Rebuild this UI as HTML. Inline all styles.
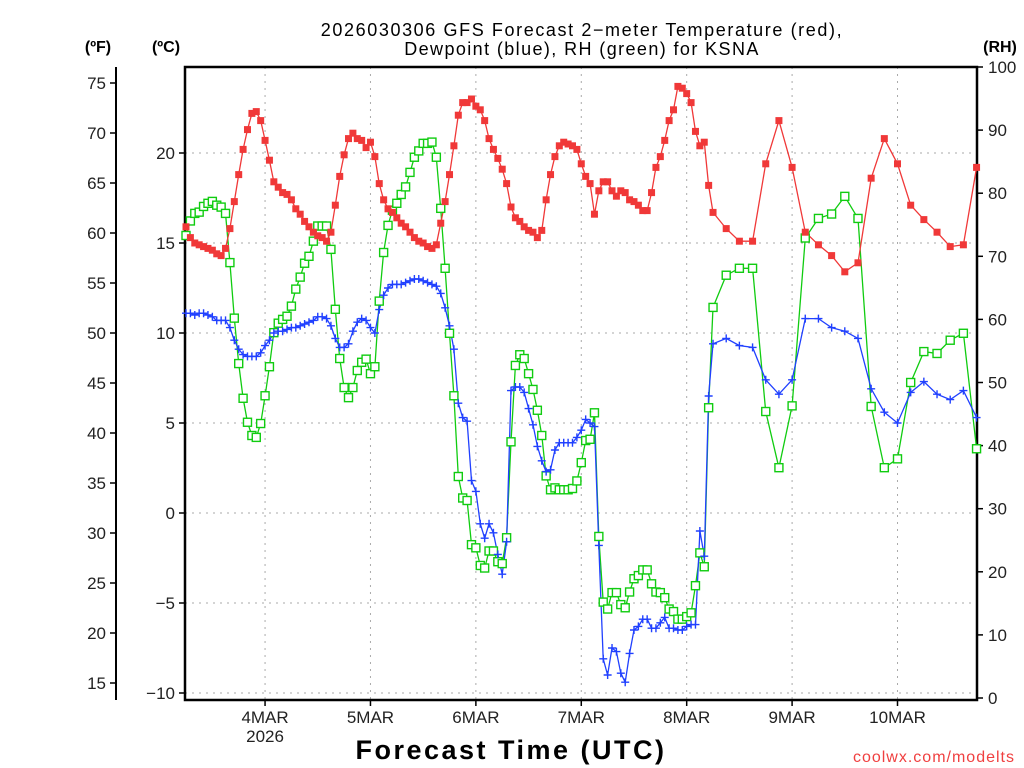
<!DOCTYPE html>
<html><head><meta charset="utf-8">
<style>
html,body{margin:0;padding:0;background:#fff;}
svg{display:block;font-family:"Liberation Sans","DejaVu Sans",sans-serif;}
</style></head>
<body>
<svg id="chart" width="1024" height="768" viewBox="0 0 1024 768" xmlns="http://www.w3.org/2000/svg">
<rect x="0" y="0" width="1024" height="768" fill="#fff"/>
<text x="582" y="36" font-size="18" text-anchor="middle" fill="#000" letter-spacing="1.6">2026030306 GFS Forecast 2−meter Temperature (red),</text>
<text x="582" y="55" font-size="18" text-anchor="middle" fill="#000" letter-spacing="1.4">Dewpoint (blue), RH (green) for KSNA</text>
<text x="98" y="52" font-size="16" font-weight="bold" text-anchor="middle">(ºF)</text>
<text x="166" y="52" font-size="16" font-weight="bold" text-anchor="middle">(ºC)</text>
<text x="1000" y="52" font-size="16" font-weight="bold" text-anchor="middle">(RH)</text>
<text x="511" y="759" font-size="27" font-weight="bold" text-anchor="middle" letter-spacing="2.5">Forecast Time (UTC)</text>
<text x="1015" y="762" font-size="16" text-anchor="end" fill="#f04040" letter-spacing="1">coolwx.com/modelts</text>
<g id="grid"></g><g id="axes"></g><g id="series"></g>
</svg>
<script>
const tempC = [15.9,15.3,15.0,14.9,14.8,14.7,14.6,14.4,14.3,14.7,15.8,17.3,18.8,20.2,21.3,22.2,22.3,21.8,20.7,19.6,18.4,18.1,17.8,17.7,17.4,16.9,16.6,16.2,15.9,15.6,15.4,15.3,15.1,15.6,17.1,18.7,19.9,20.8,21.1,20.8,20.7,20.3,20.6,19.8,18.3,17.4,16.9,16.7,16.4,16.1,15.9,15.6,15.3,15.1,15.0,14.8,14.7,14.9,16.1,17.3,18.8,20.4,22.1,22.8,22.8,23.0,22.6,22.4,21.8,20.8,20.2,19.7,19.1,18.3,17.0,16.4,16.2,15.9,15.7,15.6,15.3,15.7,17.4,18.8,19.8,20.4,20.6,20.5,20.4,20.2,19.4,18.7,18.3,16.6,17.9,18.4,18.4,17.9,17.6,17.9,17.8,17.4,17.3,17.1,16.8,16.8,17.8,19.2,19.8,20.7,21.8,22.4,23.7,23.6,23.3,22.8,21.2,20.4,20.6,18.2,16.7,
15.8,15.1,15.1,19.4,21.8,19.2,15.6,14.9,14.3,13.4,13.9,18.6,20.8,19.4,17.1,16.3,15.6,14.8,14.9,19.2];
const dewC = [11.1,11.1,11.0,11.1,11.1,11.0,10.9,10.7,10.7,10.7,10.3,9.6,9.1,8.8,8.7,8.7,8.7,8.9,9.3,9.6,10.0,10.1,10.1,10.2,10.3,10.3,10.4,10.5,10.6,10.7,10.9,10.9,10.8,10.4,9.7,9.2,9.2,9.4,10.1,10.6,10.8,10.7,10.3,10.0,11.3,12.1,12.5,12.7,12.7,12.7,12.8,12.9,13.0,13.0,12.9,12.8,12.7,12.6,12.2,11.4,10.4,9.1,6.1,5.3,5.1,1.8,1.2,-0.6,-1.4,-0.6,-1.1,-2.3,-3.4,-1.6,6.8,7.0,7.0,6.7,5.8,4.9,3.7,2.9,2.3,2.4,3.5,3.9,3.9,3.9,3.9,4.2,4.6,5.2,5.0,4.8,-1.8,-8.1,-9.0,-7.5,-7.7,-8.9,-9.4,-7.8,-6.5,-6.3,-5.9,-5.9,-6.4,-6.4,-6.1,-5.8,-6.4,-6.4,-6.5,-6.5,-6.3,-6.2,-6.2,-1.0,-2.4,6.5,9.4,
9.7,9.3,9.2,7.4,6.6,7.4,10.8,10.8,10.3,10.1,9.7,6.9,5.6,5.0,6.7,7.3,6.6,6.3,6.8,5.3];
const rhPct = [73.3,75.6,76.8,77.0,77.9,78.4,78.7,78.1,77.8,76.8,69.0,60.2,53.0,47.5,43.7,41.6,41.3,43.5,47.9,52.5,57.9,59.4,60.0,60.5,62.1,64.8,66.7,68.9,70.0,72.4,74.8,74.8,74.8,71.1,61.6,53.8,49.2,47.6,49.2,51.9,53.2,53.7,51.4,52.5,62.9,70.6,74.9,77.3,78.4,79.8,81.0,83.3,85.7,86.7,87.9,87.9,88.1,85.7,77.6,68.1,57.8,47.9,35.1,31.7,31.3,24.3,23.8,21.0,20.6,23.3,23.3,21.6,21.3,25.4,40.6,52.7,54.4,53.8,51.4,48.9,45.6,41.6,35.2,33.0,33.3,33.0,33.0,33.0,33.2,34.4,37.3,40.8,41.0,45.2,25.6,15.2,14.1,16.7,16.7,14.8,14.3,16.8,18.9,19.4,20.3,20.3,18.1,16.8,16.7,15.9,14.1,13.7,12.5,12.5,12.9,13.5,17.8,23.0,20.8,46.0,61.9,
67.0,68.1,68.1,45.4,36.5,46.3,72.9,76.0,76.7,79.5,76.0,46.2,36.5,37.9,50.0,54.9,54.6,56.7,57.8,39.5];
const dayLabels = ["4MAR","5MAR","6MAR","7MAR","8MAR","9MAR","10MAR"];
const dayHours = [18,42,66,90,114,138,162];
const cTicks = [-10,-5,0,5,10,15,20];
const fTicks = [15,20,25,30,35,40,45,50,55,60,65,70,75];
const rhTicks = [0,10,20,30,40,50,60,70,80,90,100];

const NS="http://www.w3.org/2000/svg";
const L=185,R=977,T=67,B=700;
function xH(h){return 186+h*4.392;}
function yC(c){return 513-18*c;}
function yF(f){return yC((f-32)*5/9);}
function yRH(r){return 698-6.31*r;}
function hourAt(i){return i<=120?i:120+(i-120)*3;}
function mk(tag,attrs,parent){const e=document.createElementNS(NS,tag);for(const k in attrs)e.setAttribute(k,attrs[k]);parent.appendChild(e);return e;}
const grid=document.getElementById('grid'),axes=document.getElementById('axes'),ser=document.getElementById('series');

cTicks.forEach(c=>{
  const y=yC(c);
  const g=mk('line',{x1:L,x2:R,y1:y,y2:y,stroke:'#aaa','stroke-width':1,'stroke-dasharray':'2,5'},grid);
  
  
  mk('line',{x1:L-6,x2:L,y1:y,y2:y,stroke:'#000','stroke-width':1.5},axes);
  const t=mk('text',{x:L-10,y:y+6,'font-size':17,'text-anchor':'end',fill:'#222'},axes);
  t.textContent=c<0?'−'+Math.abs(c):String(c);
  
  
});
dayHours.forEach((h,i)=>{
  const x=xH(h);
  const g=mk('line',{x1:x,x2:x,y1:T,y2:B,stroke:'#aaa','stroke-width':1,'stroke-dasharray':'2,5'},grid);
  
  
  mk('line',{x1:x,x2:x,y1:B,y2:B+6,stroke:'#000','stroke-width':1.5},axes);
  const t=mk('text',{x:x,y:723,'font-size':17,'text-anchor':'middle',fill:'#222'},axes);
  t.textContent=dayLabels[i];
  
  
});
const yr=mk('text',{x:xH(dayHours[0]),y:742,'font-size':17,'text-anchor':'middle',fill:'#222'},axes);
yr.textContent='2026';



mk('line',{x1:116,x2:116,y1:67,y2:700,stroke:'#000','stroke-width':2},axes);
fTicks.forEach(f=>{
  const y=yF(f);
  mk('line',{x1:110,x2:116,y1:y,y2:y,stroke:'#000','stroke-width':1.5},axes);
  const t=mk('text',{x:106,y:y+6,'font-size':17,'text-anchor':'end',fill:'#222'},axes);
  t.textContent=String(f);
  
  
});
rhTicks.forEach(r=>{
  const y=yRH(r);
  mk('line',{x1:R,x2:R+6,y1:y,y2:y,stroke:'#000','stroke-width':1.5},axes);
  const t=mk('text',{x:988,y:y+6,'font-size':17,'text-anchor':'start',fill:'#222'},axes);
  t.textContent=String(r);
  
  
});
const frame=mk('path',{d:`M${L},${T}H${R}V${B}H${L}Z`,fill:'none',stroke:'#000','stroke-width':2.5},axes);



function line(vals,fy,color,name){
  const pts=vals.map((v,i)=>xH(hourAt(i)).toFixed(1)+','+fy(v).toFixed(1)).join(' ');
  const p=mk('polyline',{points:pts,fill:'none',stroke:color,'stroke-width':1.3},ser);
  
  
}
line(rhPct,yRH,'#10cc10','rh-line');
line(dewC,yC,'#2040ff','dewpoint-line');
line(tempC,yC,'#f03838','temperature-line');
rhPct.forEach((v,i)=>{
  const m=mk('rect',{x:xH(hourAt(i))-4,y:yRH(v)-4,width:8,height:8,fill:'#fff',stroke:'#10cc10','stroke-width':1.4},ser);
  
  
});
dewC.forEach((v,i)=>{
  const x=xH(hourAt(i)),y=yC(v);
  const m=mk('path',{d:`M${x-4},${y}H${x+4}M${x},${y-4}V${y+4}`,stroke:'#2040ff','stroke-width':1.4,fill:'none'},ser);
  
  
});
tempC.forEach((v,i)=>{
  const m=mk('rect',{x:xH(hourAt(i))-3.5,y:yC(v)-3.5,width:7,height:7,fill:'#f03838'},ser);
  
  
});
</script>
</body></html>
